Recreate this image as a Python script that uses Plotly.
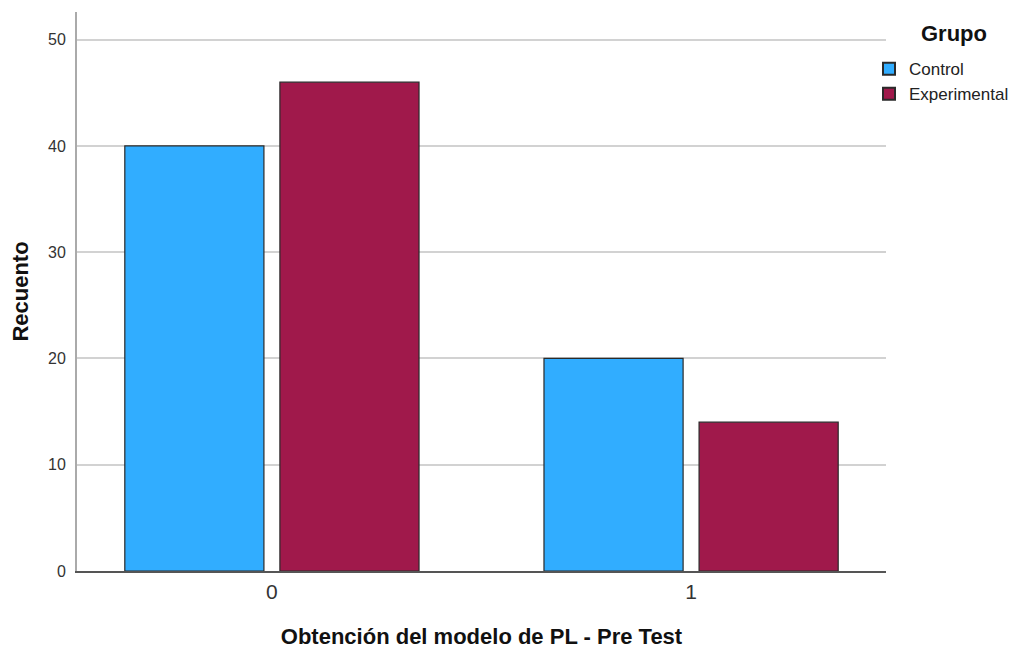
import plotly.graph_objects as go

categories = ["0", "1"]
groups = ["Control", "Experimental"]
control_counts = [40, 20]
experimental_counts = [46, 14]
y_ticks = [0, 10, 20, 30, 40, 50]

colors = {"Control": "#31adff", "Experimental": "#a0194b"}
values = {"Control": control_counts, "Experimental": experimental_counts}

FONT = "Liberation Sans, Arial, sans-serif"

fig = go.Figure()
for g in groups:
    fig.add_trace(go.Bar(
        x=categories, y=values[g], name=g,
        marker=dict(color=colors[g], line=dict(color="#2a2a2a", width=1.2)),
    ))

fig.update_layout(
    width=1020, height=648,
    margin=dict(l=69, r=142, t=4, b=85),
    paper_bgcolor="white", plot_bgcolor="white",
    barmode="group", bargap=0.26, bargroupgap=0.103,
    font=dict(family=FONT, color="#222"),
    showlegend=True,
    legend=dict(
        x=0.979, xanchor="left", y=0.93, yanchor="top",
        font=dict(size=17, color="#222"),
        tracegroupgap=0, itemsizing="constant",
        bgcolor="rgba(0,0,0,0)",
    ),
    annotations=[dict(
        text="<b>Grupo</b>", xref="paper", yref="paper",
        x=1.084, y=0.9607, xanchor="center", yanchor="middle",
        showarrow=False, font=dict(size=22, color="#111"),
    )],
)

fig.update_xaxes(
    type="category", range=[-0.465, 1.465],
    showline=True, linecolor="#555", linewidth=1.5,
    ticks="", tickfont=dict(size=21, color="#333"), ticklabelstandoff=1,
    title=dict(text="<b>Obtención del modelo de PL - Pre Test</b>", font=dict(size=22, color="#111"), standoff=27),
    showgrid=False, zeroline=False,
)
fig.update_yaxes(
    range=[0, 52.6], tickvals=y_ticks, ticktext=[str(v) for v in y_ticks],
    showline=True, linecolor="#aaa", linewidth=2,
    ticks="", tickfont=dict(size=16, color="#333"), ticklabelstandoff=6,
    showgrid=True, gridcolor="#d2d2d2", gridwidth=1.5,
    zeroline=False,
    title=dict(text="<b>Recuento</b>", font=dict(size=22, color="#111"), standoff=20),
)

fig.write_html("out.html")
